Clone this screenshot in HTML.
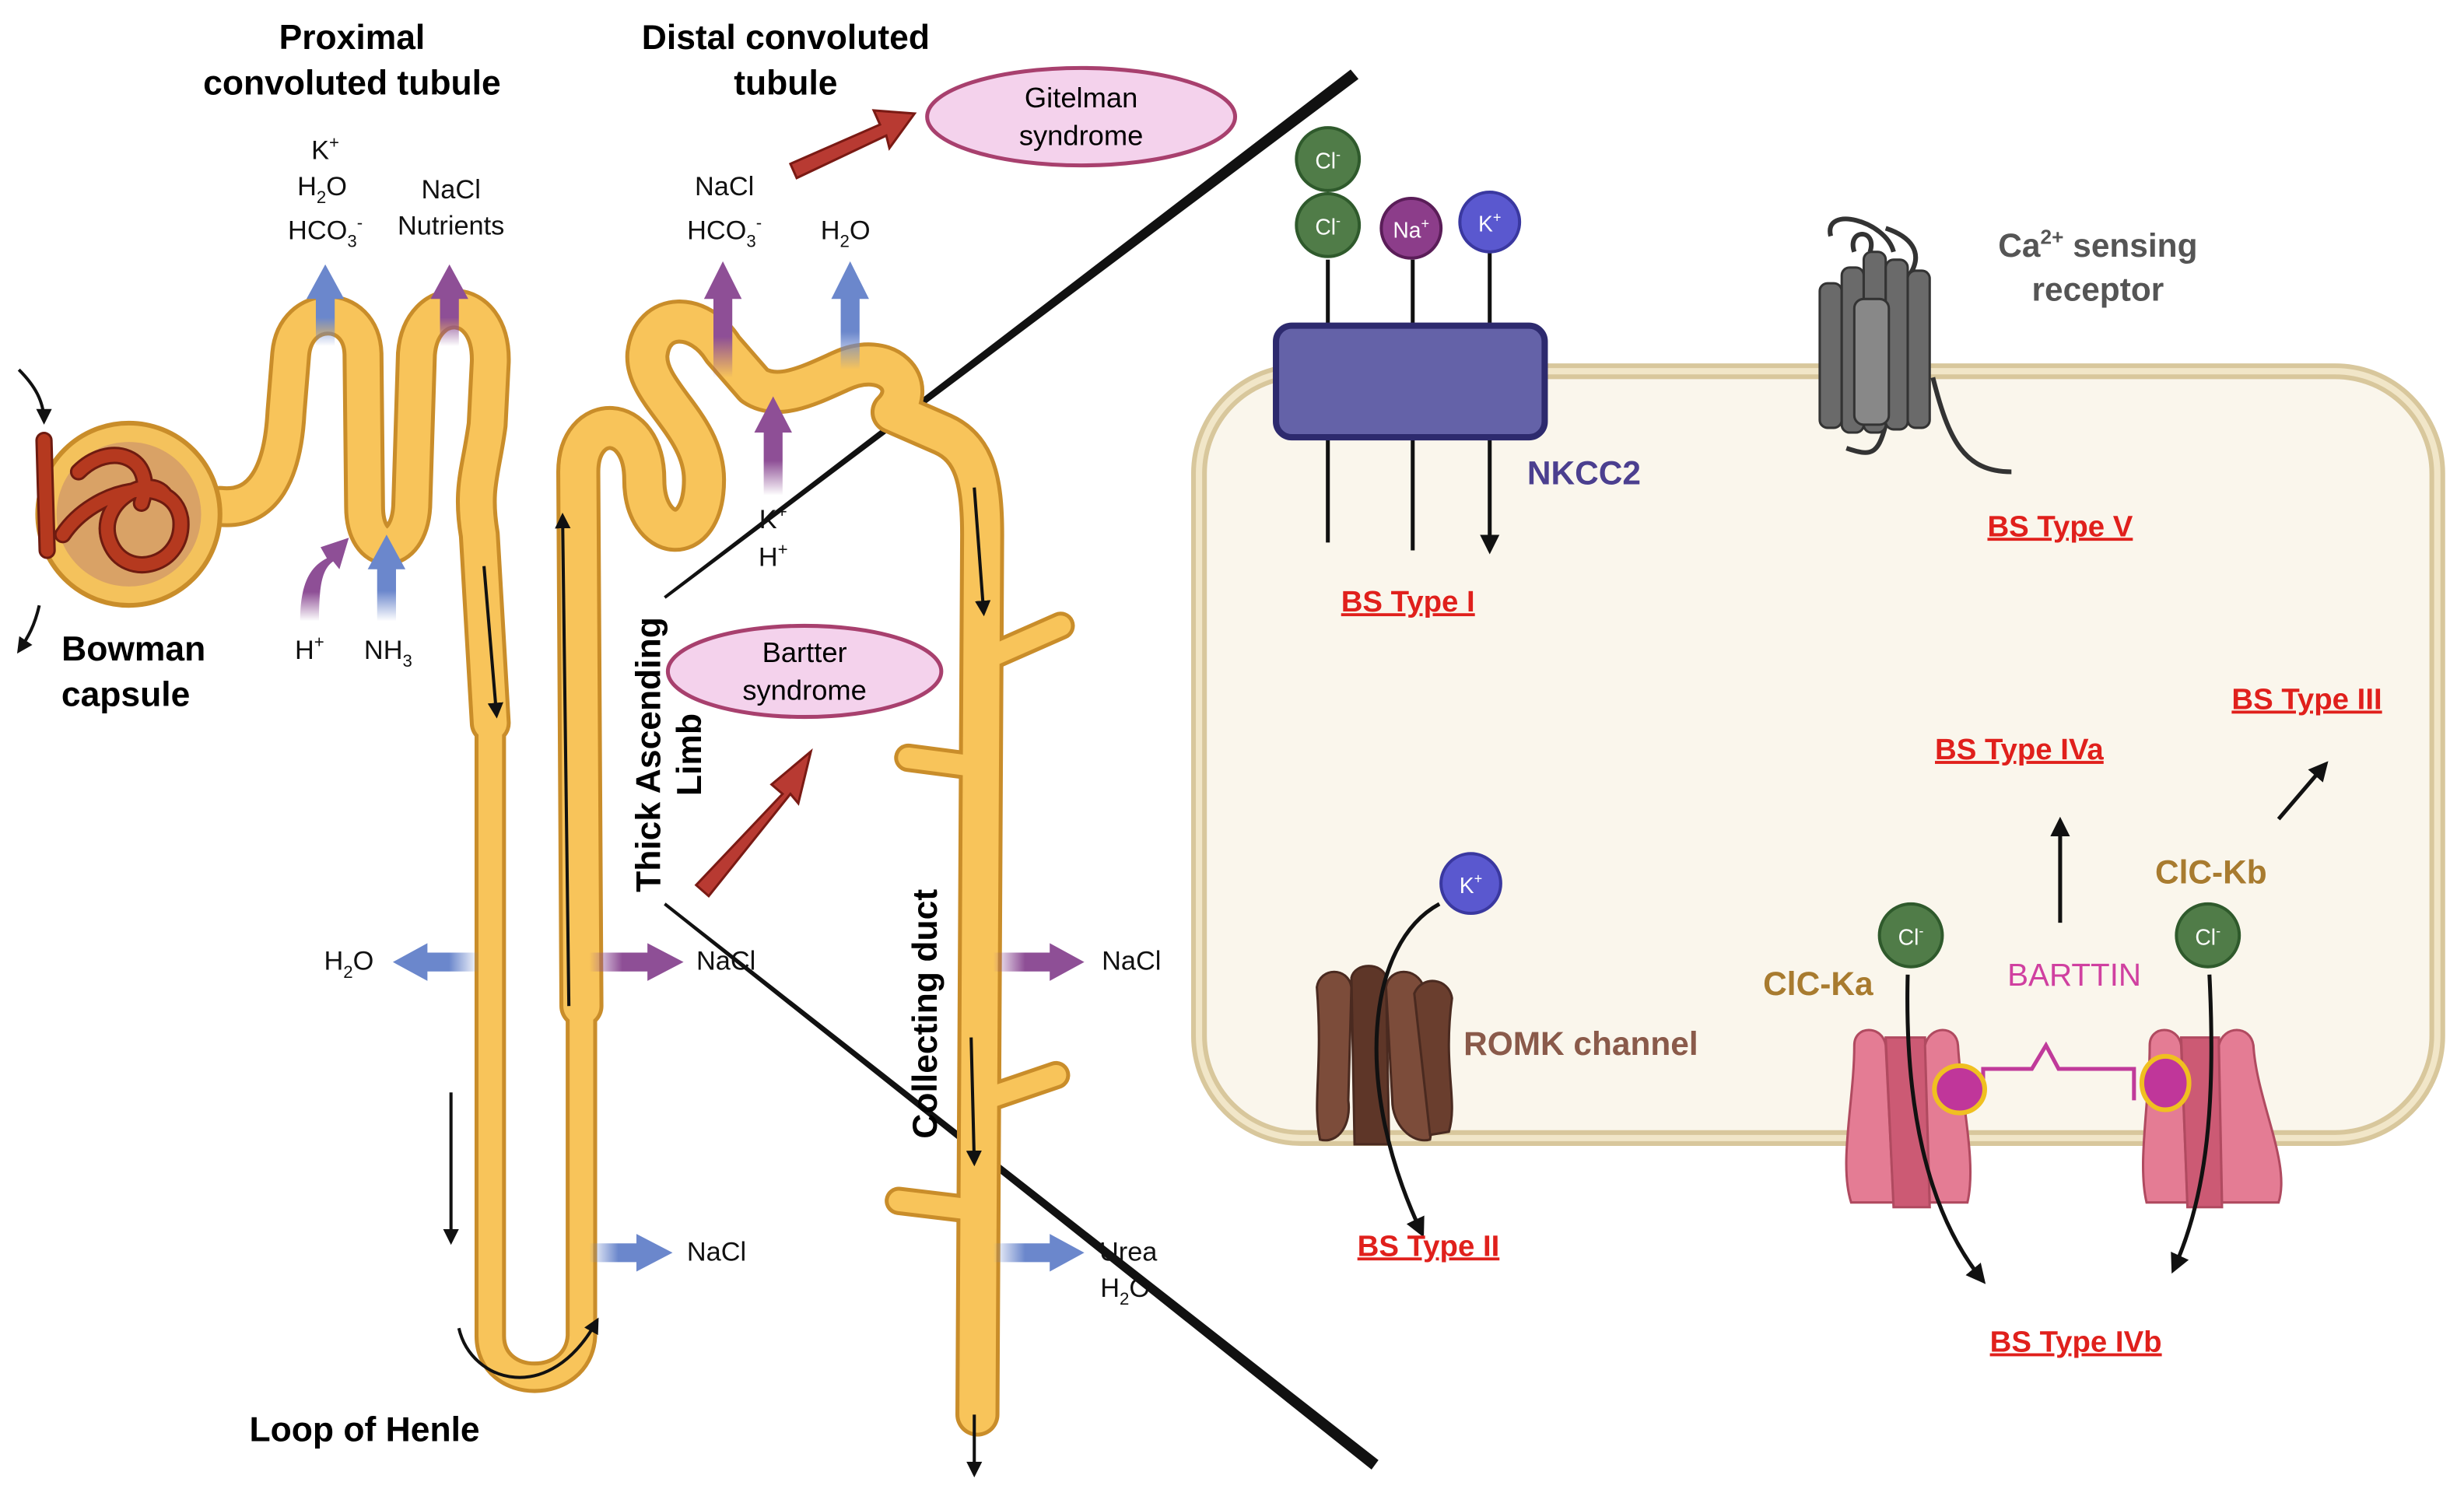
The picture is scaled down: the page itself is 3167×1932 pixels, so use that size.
<!DOCTYPE html>
<html><head><meta charset="utf-8"><style>
html,body{margin:0;padding:0;background:#fff;}
svg{display:block;}
text{font-family:"Liberation Sans",sans-serif;}
.red{fill:#e0201c;font-weight:bold;font-size:19px;text-decoration:underline;}
</style></head><body>
<svg width="3167" height="1932" viewBox="0 0 1568 956" xmlns="http://www.w3.org/2000/svg">
<defs>
<marker id="ah" viewBox="0 0 10 10" refX="8" refY="5" markerWidth="5" markerHeight="5" orient="auto"><path d="M0,0 L10,5 L0,10 z" fill="#111"/></marker>
<linearGradient id="gbu" x1="0" y1="1" x2="0" y2="0"><stop offset="0" stop-color="#6b87cc" stop-opacity="0"/><stop offset="0.35" stop-color="#6b87cc"/></linearGradient>
<linearGradient id="gpu" x1="0" y1="1" x2="0" y2="0"><stop offset="0" stop-color="#8e4f96" stop-opacity="0"/><stop offset="0.35" stop-color="#8e4f96"/></linearGradient>
<linearGradient id="gbr" x1="0" y1="0" x2="1" y2="0"><stop offset="0" stop-color="#6b87cc" stop-opacity="0"/><stop offset="0.35" stop-color="#6b87cc"/></linearGradient>
<linearGradient id="gpr" x1="0" y1="0" x2="1" y2="0"><stop offset="0" stop-color="#8e4f96" stop-opacity="0"/><stop offset="0.35" stop-color="#8e4f96"/></linearGradient>
<linearGradient id="gbl" x1="1" y1="0" x2="0" y2="0"><stop offset="0" stop-color="#6b87cc" stop-opacity="0"/><stop offset="0.35" stop-color="#6b87cc"/></linearGradient>
</defs>

<!-- cell -->
<rect x="763" y="236" width="788" height="488" rx="65" fill="#faf6ec" stroke="#d8c79c" stroke-width="10"/>
<rect x="763" y="236" width="788" height="488" rx="65" fill="none" stroke="#f1e6c8" stroke-width="4"/>

<!-- diagonal lines (tapered) -->
<polygon points="859.5,44 864.5,50 423.6,380.8 422.4,379.2" fill="#111"/>
<polygon points="423.6,574.2 422.4,575.8 872.8,935 877.2,929" fill="#111"/>

<!-- tubule -->
<g fill="none" stroke-linecap="round" stroke-linejoin="round">
<path d="M140,322 C168,325 180,300 182,262 L185,225 C188,192 230,192 231,225 L232,322 C232,355 260,355 262,322 L265,225 C268,186 313,186 312,230 L310,270 C306,300 300,310 305,340 L312,460" stroke="#c98d2a" stroke-width="26"/>
<path d="M312,460 L312,850 C312,885 368,885 370,850 L370,640" stroke="#c98d2a" stroke-width="20"/>
<path d="M370,640 L368,300 C368,262 410,262 410,305 C410,345 448,350 448,305 C448,270 410,250 412,225 C415,198 445,198 460,222 L480,245 C495,255 515,245 535,236 C565,222 585,245 568,262 L600,276 C620,285 625,305 625,340 L622,900" stroke="#c98d2a" stroke-width="28"/>
<path d="M625,420 L675,398 M624,488 L578,482 M625,700 L672,684 M622,770 L572,764" stroke="#c98d2a" stroke-width="18"/>
<path d="M140,322 C168,325 180,300 182,262 L185,225 C188,192 230,192 231,225 L232,322 C232,355 260,355 262,322 L265,225 C268,186 313,186 312,230 L310,270 C306,300 300,310 305,340 L312,460" stroke="#f8c45a" stroke-width="21"/>
<path d="M312,460 L312,850 C312,885 368,885 370,850 L370,640" stroke="#f8c45a" stroke-width="15"/>
<path d="M370,640 L368,300 C368,262 410,262 410,305 C410,345 448,350 448,305 C448,270 410,250 412,225 C415,198 445,198 460,222 L480,245 C495,255 515,245 535,236 C565,222 585,245 568,262 L600,276 C620,285 625,305 625,340 L622,900" stroke="#f8c45a" stroke-width="23"/>
<path d="M625,420 L675,398 M624,488 L578,482 M625,700 L672,684 M622,770 L572,764" stroke="#f8c45a" stroke-width="13"/>
</g>
<g stroke="#111" stroke-width="2" fill="none" marker-end="url(#ah)">
<path d="M308,360 L316,455"/><path d="M362,640 L358,328"/><path d="M620,310 L626,390"/><path d="M618,660 L620,740"/>
<path d="M287,695 L287,790"/><path d="M292,845 C300,880 350,895 380,840"/><path d="M620,900 L620,938"/>
<path d="M12,235 C22,245 28,255 28,268"/><path d="M25,385 C22,398 18,405 12,414"/>
</g>

<!-- bowman capsule -->
<circle cx="82" cy="327" r="58" fill="#f4c25c" stroke="#c98d2a" stroke-width="3"/>
<circle cx="82" cy="327" r="46" fill="#d9a266"/>
<g fill="none" stroke="#6e1b10" stroke-width="11" stroke-linecap="round">
<path d="M28,280 L30,350 M40,340 C60,310 110,300 115,330 C118,360 80,370 70,345 C60,320 95,300 105,315 M50,300 C70,280 100,290 90,320"/></g>
<g fill="none" stroke="#b5391f" stroke-width="8" stroke-linecap="round">
<path d="M28,280 L30,350 M40,340 C60,310 110,300 115,330 C118,360 80,370 70,345 C60,320 95,300 105,315 M50,300 C70,280 100,290 90,320"/></g>

<!-- transport arrows -->
<g>
<path d="M201,220 L201,190 L195,190 L207,168 L219,190 L213,190 L213,220 z" fill="url(#gbu)"/>
<path d="M280,220 L280,190 L274,190 L286,168 L298,190 L292,190 L292,220 z" fill="url(#gpu)"/>
<path d="M454,240 L454,190 L448,190 L460,166 L472,190 L466,190 L466,240 z" fill="url(#gpu)"/>
<path d="M535,235 L535,190 L529,190 L541,166 L553,190 L547,190 L547,235 z" fill="url(#gbu)"/>
<path d="M486,315 L486,275 L480,275 L492,252 L504,275 L498,275 L498,315 z" fill="url(#gpu)"/>
<path d="M240,395 L240,362 L234,362 L246,340 L258,362 L252,362 L252,395 z" fill="url(#gbu)"/>
<path d="M191,395 C191,370 198,360 208,355 L204,348 L222,342 L216,362 L212,357 C205,362 203,372 203,395 z" fill="url(#gpu)"/>
<path d="M305,606 L272,606 L272,600 L250,612 L272,624 L272,618 L305,618 z" fill="url(#gbl)"/>
<path d="M375,606 L412,606 L412,600 L435,612 L412,624 L412,618 L375,618 z" fill="url(#gpr)"/>
<path d="M375,791 L405,791 L405,785 L428,797 L405,809 L405,803 L375,803 z" fill="url(#gbr)"/>
<path d="M632,606 L668,606 L668,600 L690,612 L668,624 L668,618 L632,618 z" fill="url(#gpr)"/>
<path d="M632,791 L668,791 L668,785 L690,797 L668,809 L668,803 L632,803 z" fill="url(#gbr)"/>
</g>

<!-- red arrows -->
<path d="M503,104 L560,79 L556,70 L582,72 L566,94 L564,86 L507,113 z" fill="#b83a32" stroke="#7a1a14" stroke-width="1.5"/>
<path d="M443,563 L498,505 L491,499 L516,478 L508,511 L503,505 L451,570 z" fill="#b83a32" stroke="#7a1a14" stroke-width="1.5"/>

<!-- ellipses -->
<ellipse cx="688" cy="74" rx="98" ry="31" fill="#f4d2ec" stroke="#a8406e" stroke-width="2.5"/>
<ellipse cx="512" cy="427" rx="87" ry="29" fill="#f4d2ec" stroke="#a8406e" stroke-width="2.5"/>
<text x="688" y="68" font-size="18" text-anchor="middle">Gitelman</text>
<text x="688" y="92" font-size="18" text-anchor="middle">syndrome</text>
<text x="512" y="421" font-size="18" text-anchor="middle">Bartter</text>
<text x="512" y="445" font-size="18" text-anchor="middle">syndrome</text>

<!-- left labels -->
<g font-size="22" text-anchor="middle" font-weight="bold">
<text x="224" y="31">Proximal</text><text x="224" y="60">convoluted tubule</text>
<text x="500" y="31">Distal convoluted</text><text x="500" y="60">tubule</text>
<text x="85" y="420">Bowman</text><text x="80" y="449">capsule</text>
<text x="232" y="917">Loop of Henle</text>
<text transform="translate(420,480) rotate(-90)">Thick Ascending</text>
<text transform="translate(446,480) rotate(-90)">Limb</text>
<text transform="translate(596,645) rotate(-90)">Collecting duct</text>
</g>
<g font-size="17" text-anchor="middle" fill="#111">
<text x="207" y="101">K<tspan font-size="11" dy="-7">+</tspan></text>
<text x="205" y="124">H<tspan font-size="11" dy="5">2</tspan><tspan dy="-5">O</tspan></text>
<text x="207" y="152">HCO<tspan font-size="11" dy="5">3</tspan><tspan font-size="11" dy="-12">-</tspan></text>
<text x="287" y="126">NaCl</text><text x="287" y="149">Nutrients</text>
<text x="461" y="124">NaCl</text>
<text x="461" y="152">HCO<tspan font-size="11" dy="5">3</tspan><tspan font-size="11" dy="-12">-</tspan></text>
<text x="538" y="152">H<tspan font-size="11" dy="5">2</tspan><tspan dy="-5">O</tspan></text>
<text x="492" y="336">K<tspan font-size="11" dy="-7">+</tspan></text>
<text x="492" y="360">H<tspan font-size="11" dy="-7">+</tspan></text>
<text x="197" y="419">H<tspan font-size="11" dy="-7">+</tspan></text>
<text x="247" y="419">NH<tspan font-size="11" dy="5">3</tspan></text>
<text x="222" y="617">H<tspan font-size="11" dy="5">2</tspan><tspan dy="-5">O</tspan></text>
<text x="462" y="617">NaCl</text>
<text x="456" y="802">NaCl</text>
<text x="720" y="617">NaCl</text>
<text x="718" y="802">Urea</text>
<text x="716" y="825">H<tspan font-size="11" dy="5">2</tspan><tspan dy="-5">O</tspan></text>
</g>

<!-- NKCC2 -->
<g stroke="#111" stroke-width="2.5" fill="none">
<path d="M845,165 L845,210 M899,165 L899,210 M948,160 L948,210"/>
<path d="M845,276 L845,345 M899,276 L899,350 M948,276 L948,350" marker-end="url(#ah)"/>
</g>
<rect x="812" y="207" width="171" height="71" rx="10" fill="#6462a8" stroke="#2d2a6e" stroke-width="4"/>
<g font-size="14" fill="#fff" text-anchor="middle">
<circle cx="845" cy="101" r="20" fill="#507c48" stroke="#2f5a2c" stroke-width="2"/><text x="845" y="107">Cl<tspan font-size="9" dy="-6">-</tspan></text>
<circle cx="845" cy="143" r="20" fill="#507c48" stroke="#2f5a2c" stroke-width="2"/><text x="845" y="149">Cl<tspan font-size="9" dy="-6">-</tspan></text>
<circle cx="898" cy="145" r="19" fill="#8c3d8a" stroke="#5a1d58" stroke-width="2"/><text x="898" y="151">Na<tspan font-size="9" dy="-6">+</tspan></text>
<circle cx="948" cy="141" r="19" fill="#5a58cf" stroke="#3a38a0" stroke-width="2"/><text x="948" y="147">K<tspan font-size="9" dy="-6">+</tspan></text>
<circle cx="936" cy="562" r="19" fill="#5a58cf" stroke="#3a38a0" stroke-width="2"/><text x="936" y="568">K<tspan font-size="9" dy="-6">+</tspan></text>
<circle cx="1216" cy="595" r="20" fill="#507c48" stroke="#2f5a2c" stroke-width="2"/><text x="1216" y="601">Cl<tspan font-size="9" dy="-6">-</tspan></text>
<circle cx="1405" cy="595" r="20" fill="#507c48" stroke="#2f5a2c" stroke-width="2"/><text x="1405" y="601">Cl<tspan font-size="9" dy="-6">-</tspan></text>
</g>
<text x="1008" y="308" font-size="21" font-weight="bold" fill="#4b3f8f" text-anchor="middle">NKCC2</text>

<!-- Ca receptor -->
<path d="M1180,160 C1175,145 1195,145 1190,160 M1165,150 C1160,130 1200,140 1205,160 M1200,145 C1215,150 1225,160 1215,175 M1230,240 C1240,280 1250,300 1280,300 M1200,270 C1195,290 1190,290 1175,285" stroke="#333" stroke-width="3" fill="none"/>
<g fill="#6a6a6a" stroke="#333" stroke-width="1.5">
<rect x="1158" y="180" width="14" height="92" rx="5"/><rect x="1172" y="170" width="14" height="105" rx="5"/>
<rect x="1186" y="160" width="14" height="115" rx="5"/><rect x="1200" y="165" width="14" height="108" rx="5"/>
<rect x="1214" y="172" width="14" height="100" rx="5"/><rect x="1180" y="190" width="22" height="80" rx="6" fill="#888"/>
</g>
<text x="1335" y="163" font-size="21" font-weight="bold" fill="#555" text-anchor="middle">Ca<tspan font-size="13" dy="-8">2+</tspan><tspan dy="8"> sensing</tspan></text>
<text x="1335" y="191" font-size="21" font-weight="bold" fill="#555" text-anchor="middle">receptor</text>

<!-- ROMK -->
<g fill="#7c4c3a" stroke="#4a2a20" stroke-width="1.5">
<path d="M838,628 C840,615 858,615 860,628 L858,700 C860,715 852,728 840,725 C835,700 842,680 838,628 z"/>
<path d="M860,622 C862,612 880,612 882,622 L884,728 L862,728 z" fill="#5e3628"/>
<path d="M882,628 C884,615 902,615 906,628 C902,680 915,700 910,725 C898,728 886,715 886,700 z"/>
<path d="M900,632 C905,620 922,622 924,635 C918,680 928,700 922,720 L910,722 z" fill="#6a3e2e"/>
</g>
<path d="M916,575 C870,600 860,690 905,785" stroke="#111" stroke-width="2.5" fill="none" marker-end="url(#ah)"/>
<text x="1006" y="671" font-size="21" font-weight="bold" fill="#8a5a4a" text-anchor="middle">ROMK channel</text>

<!-- ClC channels -->
<g stroke="#b04a60" stroke-width="1.5">
<path d="M1180,665 C1180,652 1198,652 1200,665 L1205,765 L1178,765 C1170,740 1180,700 1180,665 z" fill="#e47c94"/>
<path d="M1200,660 L1225,660 L1228,768 L1205,768 z" fill="#cc5a74"/>
<path d="M1225,665 C1228,652 1245,652 1246,665 C1248,700 1258,740 1252,765 L1228,765 z" fill="#e47c94"/>
<path d="M1368,665 C1368,652 1386,652 1388,665 L1392,765 L1366,765 C1360,740 1368,700 1368,665 z" fill="#e47c94"/>
<path d="M1388,660 L1412,660 L1414,768 L1392,768 z" fill="#cc5a74"/>
<path d="M1412,665 C1415,652 1432,652 1434,665 C1436,700 1458,740 1450,765 L1414,765 z" fill="#e47c94"/>
</g>
<path d="M1262,692 L1262,680 L1293,680 L1302,665 L1310,680 L1358,680 L1358,700" stroke="#c03a9a" stroke-width="2.5" fill="none"/>
<ellipse cx="1247" cy="693" rx="16" ry="15" fill="#c0369a" stroke="#f0c020" stroke-width="3"/>
<ellipse cx="1378" cy="689" rx="15" ry="17" fill="#c0369a" stroke="#f0c020" stroke-width="3"/>
<g stroke="#111" stroke-width="2.5" fill="none" marker-end="url(#ah)">
<path d="M1214,620 C1212,700 1225,770 1262,815"/>
<path d="M1406,620 C1410,700 1405,760 1383,808"/>
<path d="M1311,587 L1311,522"/>
<path d="M1450,521 L1480,486"/>
</g>
<text x="1157" y="633" font-size="21" font-weight="bold" fill="#a87b2f" text-anchor="middle">ClC-Ka</text>
<text x="1407" y="562" font-size="21" font-weight="bold" fill="#a87b2f" text-anchor="middle">ClC-Kb</text>
<text x="1320" y="627" font-size="20" fill="#d040a0" text-anchor="middle">BARTTIN</text>

<g text-anchor="middle">
<text class="red" x="896" y="389">BS Type I</text>
<text class="red" x="1311" y="341">BS Type V</text>
<text class="red" x="1468" y="451">BS Type III</text>
<text class="red" x="1285" y="483">BS Type IVa</text>
<text class="red" x="909" y="799">BS Type II</text>
<text class="red" x="1321" y="860">BS Type IVb</text>
</g>
</svg>
</body></html>
